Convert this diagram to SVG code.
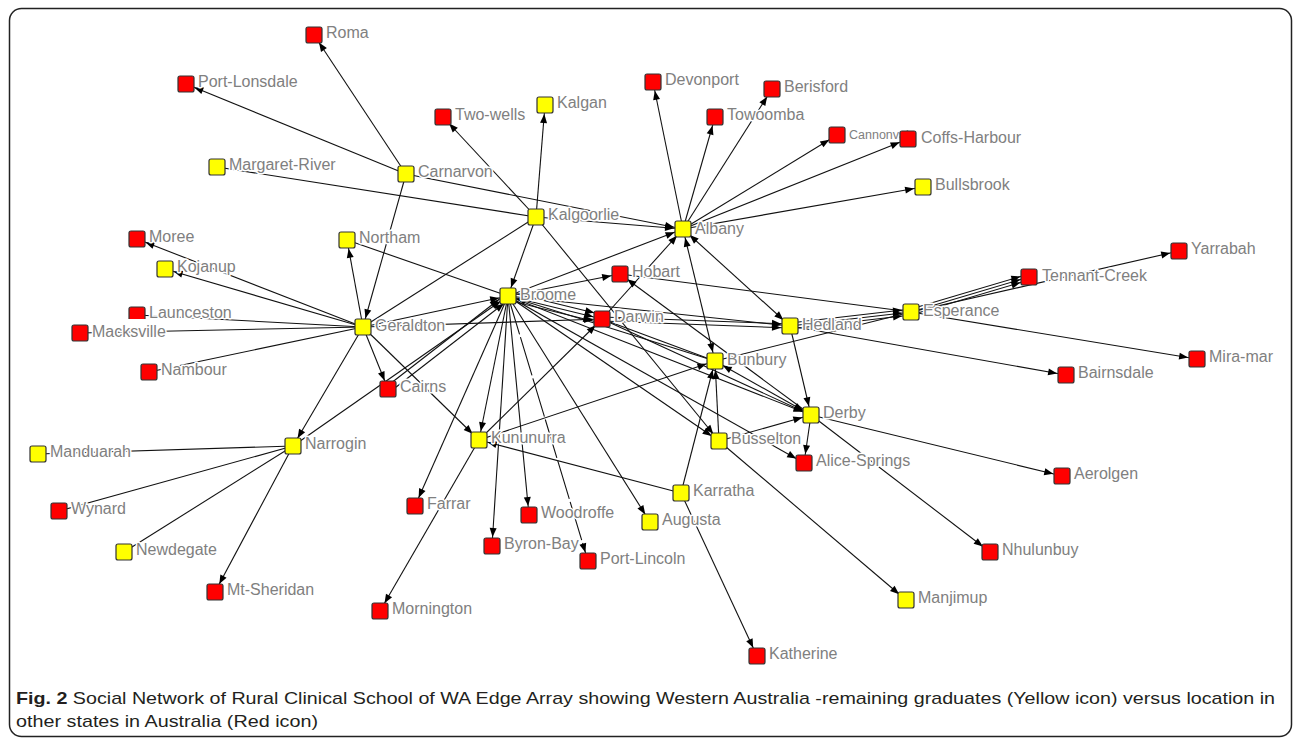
<svg xmlns="http://www.w3.org/2000/svg" width="1295" height="738" viewBox="0 0 1295 738">
<style>
.e{stroke:#111;stroke-width:1.1;fill:none}
.a{marker-end:url(#ah)}
.b{marker-start:url(#ah);marker-end:url(#ah)}
.y{fill:#ffff00;stroke:#333;stroke-width:1.2}
.r{fill:#ff0000;stroke:#333;stroke-width:1.2}
.n text{font-family:"Liberation Sans",Arial,sans-serif;font-size:16px;fill:#808080;stroke:#fff;stroke-width:3;stroke-linejoin:round;paint-order:stroke}
.n text.sm{font-size:12.5px}
.cap{font-family:"Liberation Sans",Arial,sans-serif;font-size:17px;fill:#231f20}
</style>
<defs>
<marker id="ah" viewBox="0 0 9 7" refX="18" refY="3.5" markerWidth="9" markerHeight="7" markerUnits="userSpaceOnUse" orient="auto-start-reverse" overflow="visible"><path d="M0,0 L9,3.5 L0,7 z" fill="#000"/></marker>
</defs>
<rect x="9.5" y="8.5" width="1282" height="728" rx="12" fill="#fff" stroke="#222" stroke-width="1.5"/>
<g id="connectors">
<line class="e a" x1="406" y1="174" x2="314" y2="35"/>
<line class="e a" x1="406" y1="174" x2="186" y2="84"/>
<line class="e a" x1="406" y1="174" x2="363" y2="327"/>
<line class="e a" x1="406" y1="174" x2="683" y2="229"/>
<line class="e a" x1="536" y1="217" x2="443" y2="117"/>
<line class="e a" x1="536" y1="217" x2="545" y2="105"/>
<line class="e a" x1="536" y1="217" x2="683" y2="229"/>
<line class="e a" x1="536" y1="217" x2="508" y2="296"/>
<line class="e a" x1="536" y1="217" x2="719" y2="441"/>
<line class="e" x1="536" y1="217" x2="217" y2="167"/>
<line class="e" x1="363" y1="327" x2="536" y2="217"/>
<line class="e a" x1="683" y1="229" x2="653" y2="82"/>
<line class="e a" x1="683" y1="229" x2="715" y2="117"/>
<line class="e a" x1="683" y1="229" x2="772" y2="89"/>
<line class="e a" x1="683" y1="229" x2="837" y2="135"/>
<line class="e a" x1="683" y1="229" x2="908" y2="139"/>
<line class="e a" x1="683" y1="229" x2="923" y2="187"/>
<line class="e b" x1="683" y1="229" x2="790" y2="326"/>
<line class="e b" x1="683" y1="229" x2="715" y2="361"/>
<line class="e a" x1="508" y1="296" x2="683" y2="229"/>
<line class="e a" x1="602" y1="319" x2="683" y2="229"/>
<line class="e a" x1="508" y1="296" x2="620" y2="274"/>
<line class="e a" x1="811" y1="415" x2="620" y2="274"/>
<line class="e" x1="620" y1="274" x2="911" y2="312"/>
<line class="e a" x1="363" y1="327" x2="347" y2="240"/>
<line class="e" x1="347" y1="240" x2="508" y2="296"/>
<line class="e a" x1="363" y1="327" x2="137" y2="239"/>
<line class="e a" x1="363" y1="327" x2="165" y2="269"/>
<line class="e" x1="137" y1="315" x2="363" y2="327"/>
<line class="e" x1="80" y1="333" x2="363" y2="327"/>
<line class="e" x1="149" y1="372" x2="363" y2="327"/>
<line class="e a" x1="363" y1="327" x2="293" y2="446"/>
<line class="e a" x1="363" y1="327" x2="388" y2="389"/>
<line class="e a" x1="363" y1="327" x2="479" y2="440"/>
<line class="e a" x1="363" y1="327" x2="508" y2="296"/>
<line class="e a" x1="363" y1="327" x2="602" y2="319"/>
<line class="e a" x1="386" y1="387" x2="506" y2="294"/>
<line class="e a" x1="391" y1="391" x2="511" y2="298"/>
<line class="e a" x1="293" y1="446" x2="508" y2="296"/>
<line class="e" x1="38" y1="454" x2="293" y2="446"/>
<line class="e" x1="59" y1="511" x2="293" y2="446"/>
<line class="e" x1="124" y1="552" x2="293" y2="446"/>
<line class="e a" x1="293" y1="446" x2="215" y2="592"/>
<line class="e a" x1="508" y1="296" x2="479" y2="440"/>
<line class="e a" x1="508" y1="296" x2="415" y2="506"/>
<line class="e a" x1="508" y1="296" x2="492" y2="546"/>
<line class="e a" x1="508" y1="296" x2="529" y2="515"/>
<line class="e a" x1="508" y1="296" x2="588" y2="561" stroke-dasharray="40 3"/>
<line class="e a" x1="508" y1="296" x2="650" y2="522"/>
<line class="e a" x1="508" y1="296" x2="719" y2="441"/>
<line class="e a" x1="508" y1="296" x2="804" y2="463"/>
<line class="e a" x1="508" y1="296" x2="811" y2="415"/>
<line class="e a" x1="715" y1="361" x2="508" y2="296"/>
<line class="e a" x1="508" y1="296" x2="602" y2="319"/>
<line class="e a" x1="509" y1="292" x2="603" y2="315"/>
<line class="e a" x1="507" y1="300" x2="601" y2="323"/>
<line class="e a" x1="508" y1="296" x2="790" y2="326"/>
<line class="e a" x1="479" y1="440" x2="602" y2="319"/>
<line class="e a" x1="479" y1="440" x2="715" y2="361"/>
<line class="e a" x1="479" y1="440" x2="380" y2="611"/>
<line class="e a" x1="681" y1="493" x2="479" y2="440"/>
<line class="e a" x1="681" y1="493" x2="715" y2="361"/>
<line class="e a" x1="681" y1="493" x2="757" y2="656"/>
<line class="e a" x1="719" y1="441" x2="715" y2="361"/>
<line class="e a" x1="719" y1="441" x2="906" y2="600"/>
<line class="e a" x1="719" y1="441" x2="811" y2="415"/>
<line class="e a" x1="602" y1="317" x2="790" y2="324"/>
<line class="e a" x1="602" y1="321" x2="790" y2="328"/>
<line class="e" x1="602" y1="319" x2="715" y2="361"/>
<line class="e a" x1="602" y1="319" x2="811" y2="415"/>
<line class="e a" x1="790" y1="326" x2="811" y2="415"/>
<line class="e a" x1="790" y1="323" x2="911" y2="309"/>
<line class="e a" x1="790" y1="326" x2="911" y2="312"/>
<line class="e a" x1="790" y1="329" x2="911" y2="315"/>
<line class="e a" x1="790" y1="326" x2="1066" y2="375"/>
<line class="e" x1="715" y1="361" x2="911" y2="312"/>
<line class="e a" x1="911" y1="309" x2="1029" y2="274"/>
<line class="e a" x1="911" y1="312" x2="1029" y2="277"/>
<line class="e a" x1="911" y1="315" x2="1029" y2="280"/>
<line class="e a" x1="911" y1="312" x2="1179" y2="251"/>
<line class="e a" x1="911" y1="312" x2="1197" y2="359"/>
<line class="e b" x1="811" y1="415" x2="715" y2="361"/>
<line class="e a" x1="811" y1="415" x2="1062" y2="476"/>
<line class="e a" x1="811" y1="415" x2="990" y2="552"/>
<line class="e a" x1="811" y1="415" x2="804" y2="463"/>
</g>
<g id="n-roma" class="n"><rect class="r" x="306" y="27" width="16" height="16" rx="2"/><text x="326" y="38">Roma</text></g>
<g id="n-port-lonsdale" class="n"><rect class="r" x="178" y="76" width="16" height="16" rx="2"/><text x="198" y="87">Port-Lonsdale</text></g>
<g id="n-margaret-river" class="n"><rect class="y" x="209" y="159" width="16" height="16" rx="2"/><text x="229" y="170">Margaret-River</text></g>
<g id="n-carnarvon" class="n"><rect class="y" x="398" y="166" width="16" height="16" rx="2"/><text x="418" y="177">Carnarvon</text></g>
<g id="n-two-wells" class="n"><rect class="r" x="435" y="109" width="16" height="16" rx="2"/><text x="455" y="120">Two-wells</text></g>
<g id="n-kalgan" class="n"><rect class="y" x="537" y="97" width="16" height="16" rx="2"/><text x="557" y="108">Kalgan</text></g>
<g id="n-kalgoorlie" class="n"><rect class="y" x="528" y="209" width="16" height="16" rx="2"/><text x="548" y="220">Kalgoorlie</text></g>
<g id="n-devonport" class="n"><rect class="r" x="645" y="74" width="16" height="16" rx="2"/><text x="665" y="85">Devonport</text></g>
<g id="n-berisford" class="n"><rect class="r" x="764" y="81" width="16" height="16" rx="2"/><text x="784" y="92">Berisford</text></g>
<g id="n-towoomba" class="n"><rect class="r" x="707" y="109" width="16" height="16" rx="2"/><text x="727" y="120">Towoomba</text></g>
<g id="n-cannonvale" class="n"><rect class="r" x="829" y="127" width="16" height="16" rx="2"/><text class="sm" x="849" y="139">Cannonvale</text></g>
<g id="n-coffs-harbour" class="n"><rect class="r" x="900" y="131" width="16" height="16" rx="2"/><text x="921" y="143">Coffs-Harbour</text></g>
<g id="n-bullsbrook" class="n"><rect class="y" x="915" y="179" width="16" height="16" rx="2"/><text x="935" y="190">Bullsbrook</text></g>
<g id="n-albany" class="n"><rect class="y" x="675" y="221" width="16" height="16" rx="2"/><text x="695" y="234">Albany</text></g>
<g id="n-moree" class="n"><rect class="r" x="129" y="231" width="16" height="16" rx="2"/><text x="149" y="242">Moree</text></g>
<g id="n-kojanup" class="n"><rect class="y" x="157" y="261" width="16" height="16" rx="2"/><text x="177" y="272">Kojanup</text></g>
<g id="n-northam" class="n"><rect class="y" x="339" y="232" width="16" height="16" rx="2"/><text x="359" y="243">Northam</text></g>
<g id="n-broome" class="n"><rect class="y" x="500" y="288" width="16" height="16" rx="2"/><text x="520" y="300">Broome</text></g>
<g id="n-hobart" class="n"><rect class="r" x="612" y="266" width="16" height="16" rx="2"/><text x="632" y="277">Hobart</text></g>
<g id="n-yarrabah" class="n"><rect class="r" x="1171" y="243" width="16" height="16" rx="2"/><text x="1191" y="254">Yarrabah</text></g>
<g id="n-tennant-creek" class="n"><rect class="r" x="1021" y="269" width="16" height="16" rx="2"/><text x="1042" y="281">Tennant-Creek</text></g>
<g id="n-esperance" class="n"><rect class="y" x="903" y="304" width="16" height="16" rx="2"/><text x="923" y="316">Esperance</text></g>
<g id="n-hedland" class="n"><rect class="y" x="782" y="318" width="16" height="16" rx="2"/><text x="802" y="330">Hedland</text></g>
<g id="n-launceston" class="n"><rect class="r" x="129" y="307" width="16" height="16" rx="2"/><rect x="126" y="319" width="22" height="8" fill="#fff"/><text x="149" y="318">Launceston</text></g>
<g id="n-macksville" class="n"><rect class="r" x="72" y="325" width="16" height="16" rx="2"/><text x="92" y="337">Macksville</text></g>
<g id="n-geraldton" class="n"><rect class="y" x="355" y="319" width="16" height="16" rx="2"/><text x="375" y="331">Geraldton</text></g>
<g id="n-darwin" class="n"><rect class="r" x="594" y="311" width="16" height="16" rx="2"/><text x="614" y="322">Darwin</text></g>
<g id="n-bunbury" class="n"><rect class="y" x="707" y="353" width="16" height="16" rx="2"/><text x="727" y="365">Bunbury</text></g>
<g id="n-nambour" class="n"><rect class="r" x="141" y="364" width="16" height="16" rx="2"/><text x="161" y="375">Nambour</text></g>
<g id="n-cairns" class="n"><rect class="r" x="380" y="381" width="16" height="16" rx="2"/><text x="400" y="392">Cairns</text></g>
<g id="n-mira-mar" class="n"><rect class="r" x="1189" y="351" width="16" height="16" rx="2"/><text x="1209" y="362">Mira-mar</text></g>
<g id="n-bairnsdale" class="n"><rect class="r" x="1058" y="367" width="16" height="16" rx="2"/><text x="1078" y="378">Bairnsdale</text></g>
<g id="n-derby" class="n"><rect class="y" x="803" y="407" width="16" height="16" rx="2"/><text x="823" y="418">Derby</text></g>
<g id="n-narrogin" class="n"><rect class="y" x="285" y="438" width="16" height="16" rx="2"/><text x="305" y="449">Narrogin</text></g>
<g id="n-manduarah" class="n"><rect class="y" x="30" y="446" width="16" height="16" rx="2"/><text x="50" y="457">Manduarah</text></g>
<g id="n-kununurra" class="n"><rect class="y" x="471" y="432" width="16" height="16" rx="2"/><text x="491" y="443">Kununurra</text></g>
<g id="n-busselton" class="n"><rect class="y" x="711" y="433" width="16" height="16" rx="2"/><text x="731" y="444">Busselton</text></g>
<g id="n-alice-springs" class="n"><rect class="r" x="796" y="455" width="16" height="16" rx="2"/><text x="816" y="466">Alice-Springs</text></g>
<g id="n-aerolgen" class="n"><rect class="r" x="1054" y="468" width="16" height="16" rx="2"/><text x="1074" y="479">Aerolgen</text></g>
<g id="n-karratha" class="n"><rect class="y" x="673" y="485" width="16" height="16" rx="2"/><text x="693" y="496">Karratha</text></g>
<g id="n-wynard" class="n"><rect class="r" x="51" y="503" width="16" height="16" rx="2"/><text x="71" y="514">Wynard</text></g>
<g id="n-farrar" class="n"><rect class="r" x="407" y="498" width="16" height="16" rx="2"/><text x="427" y="509">Farrar</text></g>
<g id="n-woodroffe" class="n"><rect class="r" x="521" y="507" width="16" height="16" rx="2"/><text x="541" y="518">Woodroffe</text></g>
<g id="n-augusta" class="n"><rect class="y" x="642" y="514" width="16" height="16" rx="2"/><text x="662" y="525">Augusta</text></g>
<g id="n-byron-bay" class="n"><rect class="r" x="484" y="538" width="16" height="16" rx="2"/><text x="504" y="549">Byron-Bay</text></g>
<g id="n-port-lincoln" class="n"><rect class="r" x="580" y="553" width="16" height="16" rx="2"/><text x="600" y="564">Port-Lincoln</text></g>
<g id="n-newdegate" class="n"><rect class="y" x="116" y="544" width="16" height="16" rx="2"/><text x="136" y="555">Newdegate</text></g>
<g id="n-nhulunbuy" class="n"><rect class="r" x="982" y="544" width="16" height="16" rx="2"/><text x="1002" y="555">Nhulunbuy</text></g>
<g id="n-mt-sheridan" class="n"><rect class="r" x="207" y="584" width="16" height="16" rx="2"/><text x="227" y="595">Mt-Sheridan</text></g>
<g id="n-mornington" class="n"><rect class="r" x="372" y="603" width="16" height="16" rx="2"/><text x="392" y="614">Mornington</text></g>
<g id="n-manjimup" class="n"><rect class="y" x="898" y="592" width="16" height="16" rx="2"/><text x="918" y="603">Manjimup</text></g>
<g id="n-katherine" class="n"><rect class="r" x="749" y="648" width="16" height="16" rx="2"/><text x="769" y="659">Katherine</text></g>
<g id="caption">
<text class="cap" x="16" y="704" textLength="1259" lengthAdjust="spacingAndGlyphs"><tspan font-weight="bold">Fig. 2</tspan> Social Network of Rural Clinical School of WA Edge Array showing Western Australia -remaining graduates (Yellow icon) versus location in</text>
<text class="cap" x="16" y="727" textLength="302" lengthAdjust="spacingAndGlyphs">other states in Australia (Red icon)</text>
</g>
</svg>
